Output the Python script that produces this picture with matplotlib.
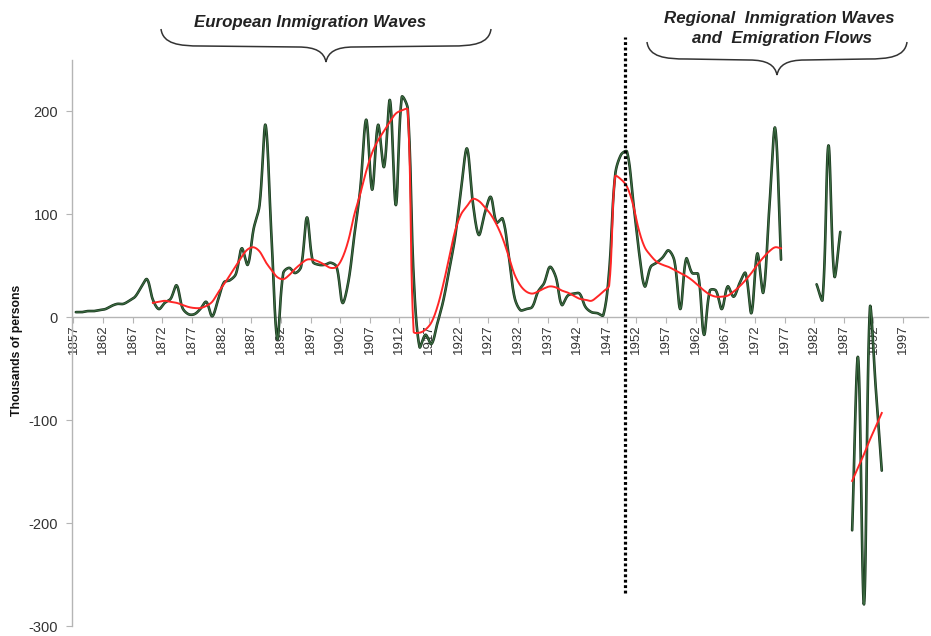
import numpy as np
import matplotlib
matplotlib.use("Agg")
import matplotlib.pyplot as plt
from matplotlib.path import Path
from matplotlib.patches import PathPatch
import matplotlib.patheffects as pe
import matplotlib.transforms as mtransforms

plt.rcParams['font.family'] = ['Liberation Sans', 'DejaVu Sans']
plt.rcParams['axes.unicode_minus'] = False

# ---------------- data ----------------
years = list(range(1857, 1994))

net_migration = [
    5, 5, 6, 6, 7, 8, 11, 13, 13, 16,            # 1857-1866
    20, 29, 37, 17, 8, 14, 18, 31, 9, 3,         # 1867-1876
    3, 8, 15, 1, 17, 34, 36, 42, 67, 51,         # 1877-1886
    86, 109, 187, 80, -21, 43, 48, 43, 49, 97,   # 1887-1896
    54, 51, 51, 53, 49, 14, 35, 80, 125, 192,    # 1897-1906
    124, 187, 146, 211, 109, 214, 203, 40, -29, -17,  # 1907-1916
    -26, -6, 16, 46, 78, 124, 164, 111, 80, 101,  # 1917-1926
    117, 92, 96, 62, 20, 7, 8, 10, 25, 33,        # 1927-1936
    49, 39, 12, 21, 23, 23, 10, 5, 4, 2,          # 1937-1946
    45, 138, 158, 161, 115, 65, 30, 49, 53, 58,   # 1947-1956
    65, 55, 8, 57, 43, 42, -17, 26, 26, 8,        # 1957-1966
    30, 20, 33, 43, 4, 62, 24, 104, 184, 56,      # 1967-1976
    None, None, None, None, None,                 # 1977-1981
    32, 17, 167, 40, 83,                          # 1982-1986
    None,                                         # 1987
    -207, -39, -279, 9, -70, -149,                # 1988-1993
]

trend = (
    [None] * 13 +                                 # 1857-1869
    [14, 15, 16, 15, 14, 12, 10, 9, 9, 11,        # 1870-1879
     15, 24, 32, 41, 50, 59, 66, 68, 64, 54,      # 1880-1889
     46, 39, 37, 41, 47, 52, 56, 56, 54, 51,      # 1890-1899
     48, 49, 58, 75, 100, 120, 142, 160, 172, 181,  # 1900-1909
     190, 198, 201, 202,                          # 1910-1913
     -14, -15, -12, -5, 10, 32, 58, 84, 100, 108,  # 1914-1923
     115, 113, 107, 100, 90, 77, 60, 42, 31, 25,  # 1924-1933
     23, 25, 28, 30, 29, 26, 24, 21, 18, 17,      # 1934-1943
     16, 20, 25, 31,                              # 1944-1947
     137, 134, 127, 110, 85, 68, 60, 54, 51, 49,  # 1948-1957
     46, 43, 40, 36, 31, 26, 22, 20, 20, 21,      # 1958-1967
     25, 30, 36, 43, 51, 58, 64, 68, 67] +        # 1968-1976
    [None] * 11 +                                 # 1977-1987
    [-159, -146, -133, -119, -106, -93]           # 1988-1993
)

tick_years = list(range(1857, 1998, 5))
y_ticks = [-300, -200, -100, 0, 100, 200]
divider_year = 1950

title_left = "European Inmigration Waves"
title_right_1 = "Regional  Inmigration Waves"
title_right_2 = "and  Emigration Flows"
y_label = "Thousands of persons"

# ---------------- layout ----------------
W, H = 931, 636
X0, X1 = 1856.75, 2001.2
Y0, Y1 = -300, 250
AX_L, AX_B, AX_W, AX_H = 72, 10, 856, 566
SX = AX_W / (X1 - X0)   # px per year
SY = AX_H / (Y1 - Y0)   # px per unit


# ---------------- smoothing (spreadsheet-style bezier) ----------------
def smooth(px, py, n=20):
    P = np.column_stack([px, py]).astype(float)
    if len(P) == 1:
        return P[:, 0], P[:, 1]
    Pe = np.vstack([P[0], P, P[-1]])
    scale = np.array([SX, SY])

    def d(a, b):
        return float(np.hypot(*((b - a) * scale)))

    t = np.linspace(0, 1, n + 1)[1:, None]
    out = [P[0:1]]
    for k in range(len(P) - 1):
        p0, p1, p2, p3 = Pe[k], Pe[k + 1], Pe[k + 2], Pe[k + 3]
        d01, d12, d23 = d(p0, p1), d(p1, p2), d(p2, p3)
        f1 = d12 / (3 * (d01 + d12)) if d01 + d12 > 0 else 0
        f2 = d12 / (3 * (d12 + d23)) if d12 + d23 > 0 else 0
        c1 = p1 + (p2 - p0) * f1
        c2 = p2 - (p3 - p1) * f2
        B = ((1 - t) ** 3) * p1 + 3 * ((1 - t) ** 2) * t * c1 \
            + 3 * (1 - t) * t ** 2 * c2 + t ** 3 * p2
        out.append(B)
    arr = np.vstack(out)
    return arr[:, 0], arr[:, 1]


def smooth_segments(x, y):
    x = np.asarray(x, float)
    y = np.array([np.nan if v is None else v for v in y], float)
    ok = ~np.isnan(y)
    segs, i, N = [], 0, len(y)
    while i < N:
        if not ok[i]:
            i += 1
            continue
        j = i
        while j < N and ok[j]:
            j += 1
        segs.append(smooth(x[i:j], y[i:j]))
        i = j
    return segs


# ---------------- figure ----------------
fig = plt.figure(figsize=(W / 100, H / 100), dpi=100)
ax = fig.add_axes([AX_L / W, AX_B / H, AX_W / W, AX_H / H])

xpos = np.array(years) + 0.4

green_fx = [pe.Stroke(linewidth=1.9, foreground='#17331b'), pe.Normal()]
for sx, sy in smooth_segments(xpos, net_migration):
    ax.plot(sx, sy, color='#3b6b41', lw=0.9, path_effects=green_fx,
            solid_capstyle='round', zorder=3)
for sx, sy in smooth_segments(xpos, trend):
    ax.plot(sx, sy, color='#ff2626', lw=1.4, zorder=4)

ax.set_xlim(X0, X1)
ax.set_ylim(Y0, Y1)

for s in ['top', 'right']:
    ax.spines[s].set_visible(False)
ax.spines['bottom'].set_position(('data', 0))
for s in ['bottom', 'left']:
    ax.spines[s].set_color('#b5b5b5')
    ax.spines[s].set_linewidth(1.0)

ax.set_xticks(tick_years)
ax.set_xticklabels([str(t) for t in tick_years], rotation=90)
ax.set_yticks(y_ticks)
ax.set_yticklabels([str(t) for t in y_ticks])
ax.tick_params(axis='x', direction='out', length=4, color='#b5b5b5',
               labelsize=9.5, labelcolor='#333333', pad=1)
ax.tick_params(axis='y', direction='out', length=4, color='#b5b5b5',
               labelsize=10.5, labelcolor='#333333', pad=6)

# vertical dotted divider
ax.plot([divider_year, divider_year], [-268, 272], color='black', lw=2.3,
        ls=(0, (0.9, 0.8)), clip_on=False, zorder=5)

fig.text(17 / W, 1 - 350 / H, y_label, rotation=90, ha='center', va='center',
         fontsize=8.8, fontweight='bold', color='#111111')

# headings
hkw = dict(ha='center', va='center', fontsize=12.2, fontweight='bold',
           style='italic', color='#222222')
fig.text(310 / W, 1 - 22 / H, title_left, **hkw)
fig.text(779 / W, 1 - 18 / H, title_right_1, **hkw)
fig.text(782 / W, 1 - 39 / H, title_right_2, **hkw)

# braces (in pixel coords, y down)
pix = mtransforms.Affine2D().scale(1 / W, -1 / H).translate(0, 1) + fig.transFigure


def brace(x0, x1, xm, ytop, ymid, ytip):
    verts = [
        (x0, ytop),
        (x0 + 2, ymid - 2), (x0 + 18, ymid), (x0 + 40, ymid),
        (xm - 28, ymid + 1),
        (xm - 10, ymid + 1), (xm - 2, ymid + 6), (xm, ytip),
        (xm + 2, ymid + 6), (xm + 10, ymid + 1), (xm + 28, ymid + 1),
        (x1 - 40, ymid),
        (x1 - 18, ymid), (x1 - 2, ymid - 2), (x1, ytop),
    ]
    codes = [Path.MOVETO,
             Path.CURVE4, Path.CURVE4, Path.CURVE4,
             Path.LINETO,
             Path.CURVE4, Path.CURVE4, Path.CURVE4,
             Path.CURVE4, Path.CURVE4, Path.CURVE4,
             Path.LINETO,
             Path.CURVE4, Path.CURVE4, Path.CURVE4]
    patch = PathPatch(Path(verts, codes), transform=pix, fill=False,
                      edgecolor='#333333', lw=1.1)
    fig.add_artist(patch)


brace(161, 491, 326, 29, 46, 62)
brace(647, 907, 777, 42, 59, 75)

fig.savefig("out.png", dpi=100)
